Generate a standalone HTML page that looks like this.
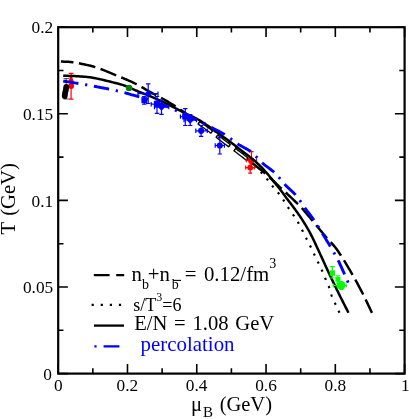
<!DOCTYPE html>
<html><head><meta charset="utf-8"><title>Freeze-out</title>
<style>
html,body{margin:0;padding:0;background:#fff;}
body{width:409px;height:419px;overflow:hidden;position:relative;font-family:"Liberation Serif",serif;color:#000;}
svg{position:absolute;left:0;top:0;will-change:transform;}
text{font-family:"Liberation Serif",serif;fill:#000;}
</style></head><body>
<svg width="409" height="419" viewBox="0 0 409 419">
<rect x="0" y="0" width="409" height="419" fill="#fff"/>
<defs><clipPath id="hc"><rect x="195" y="112" width="55" height="58"/></clipPath></defs>
<g fill="none" stroke-linecap="butt" stroke-linejoin="round">
<path d="M200.00,121.00 L201.67,122.16 L203.33,123.31 L205.00,124.45 L206.67,125.59 L208.33,126.73 L210.00,127.88 L211.67,129.02 L213.33,130.19 L215.00,131.36 L216.67,132.55 L218.33,133.76 L220.00,135.00 L221.66,136.25 L223.32,137.48 L224.96,138.73 L226.61,139.97 L228.26,141.24 L229.91,142.52 L231.56,143.83 L233.22,145.17 L234.89,146.55 L236.58,147.98 L238.28,149.46 L240.00,151.00 L241.79,152.66 L243.68,154.46 L245.64,156.38 L247.65,158.38 L249.66,160.41 L251.66,162.45 L253.60,164.45 L255.46,166.39 L257.21,168.22 L258.83,169.90 L260.26,171.41 L261.50,172.70 L262.52,173.77 L263.34,174.64 L264.00,175.35 L264.51,175.93 L264.92,176.41 L265.24,176.80 L265.50,177.14 L265.74,177.47 L265.99,177.80 L266.26,178.16 L266.59,178.58 L267.00,179.10 L267.47,179.68 L267.94,180.28 L268.42,180.88 L268.89,181.50 L269.37,182.12 L269.85,182.75 L270.33,183.38 L270.81,184.00 L271.28,184.62 L271.76,185.22 L272.23,185.82 L272.70,186.40 L273.17,186.96 L273.63,187.51 L274.09,188.04 L274.56,188.56 L275.02,189.08 L275.48,189.59 L275.93,190.11 L276.39,190.63 L276.84,191.15 L277.30,191.69 L277.75,192.23 L278.20,192.80 L278.65,193.38 L279.10,193.98 L279.55,194.58 L280.00,195.19 L280.45,195.81 L280.90,196.44 L281.34,197.07 L281.79,197.70 L282.22,198.33 L282.65,198.96 L283.08,199.58 L283.50,200.20 L283.91,200.82 L284.31,201.43 L284.71,202.05 L285.10,202.67 L285.48,203.28 L285.86,203.90 L286.24,204.52 L286.63,205.13 L287.01,205.75 L287.40,206.37 L287.80,206.98 L288.20,207.60 L288.61,208.22 L289.03,208.83 L289.46,209.45 L289.89,210.07 L290.32,210.69 L290.75,211.31 L291.18,211.92 L291.61,212.54 L292.04,213.16 L292.47,213.77 L292.89,214.39 L293.30,215.00 L293.71,215.61 L294.11,216.21 L294.51,216.81 L294.90,217.40 L295.30,217.99 L295.69,218.59 L296.08,219.19 L296.46,219.79 L296.85,220.40 L297.23,221.02 L297.62,221.65 L298.00,222.30 L298.38,222.96 L298.77,223.64 L299.15,224.34 L299.54,225.04 L299.92,225.75 L300.30,226.47 L300.68,227.19 L301.05,227.90 L301.42,228.62 L301.79,229.32 L302.15,230.02 L302.50,230.70 L302.85,231.37 L303.19,232.04 L303.52,232.70 L303.85,233.36 L304.17,234.01 L304.49,234.66 L304.81,235.31 L305.13,235.95 L305.45,236.59 L305.76,237.23 L306.08,237.87 L306.40,238.50 L306.72,239.13 L307.04,239.75 L307.35,240.36 L307.67,240.97 L307.99,241.57 L308.30,242.18 L308.61,242.78 L308.93,243.39 L309.25,244.00 L309.56,244.62 L309.88,245.26 L310.20,245.90 L310.52,246.56 L310.84,247.22 L311.17,247.90 L311.49,248.58 L311.82,249.27 L312.14,249.96 L312.47,250.66 L312.80,251.35 L313.12,252.05 L313.45,252.74 L313.77,253.42 L314.10,254.10 L314.43,254.77 L314.75,255.44 L315.08,256.11 L315.40,256.77 L315.73,257.44 L316.05,258.10 L316.38,258.76 L316.70,259.43 L317.03,260.09 L317.35,260.76 L317.68,261.43 L318.00,262.10 L318.33,262.78 L318.65,263.45 L318.98,264.13 L319.31,264.81 L319.65,265.49 L319.98,266.18 L320.30,266.86 L320.63,267.54 L320.95,268.23 L321.27,268.92 L321.59,269.61 L321.90,270.30 L322.21,270.99 L322.51,271.69 L322.80,272.39 L323.09,273.09 L323.38,273.79 L323.67,274.49 L323.95,275.20 L324.24,275.90 L324.53,276.60 L324.82,277.30 L325.11,278.00 L325.40,278.70 L325.70,279.39 L326.00,280.08 L326.31,280.77 L326.63,281.46 L326.94,282.14 L327.25,282.83 L327.56,283.51 L327.86,284.20 L328.16,284.89 L328.45,285.59 L328.73,286.29 L329.00,287.00 L329.25,287.72 L329.49,288.45 L329.72,289.19 L329.94,289.93 L330.15,290.68 L330.36,291.43 L330.56,292.18 L330.77,292.92 L330.99,293.66 L331.21,294.39 L331.45,295.10 L331.70,295.80 L331.96,296.48 L332.23,297.15 L332.51,297.81 L332.79,298.45 L333.08,299.09 L333.38,299.73 L333.67,300.36 L333.97,300.99 L334.28,301.63 L334.58,302.28 L334.89,302.93 L335.20,303.60 L335.52,304.30 L335.87,305.05 L336.22,305.82 L336.59,306.62 L336.96,307.42 L337.33,308.21 L337.69,308.97 L338.03,309.70 L338.35,310.39 L338.64,311.00 L338.89,311.55 L339.10,312.00 L339.27,312.36 L339.39,312.63 L339.48,312.82 L339.54,312.96 L339.58,313.04 L339.61,313.09 L339.62,313.12 L339.62,313.13 L339.63,313.14 L339.64,313.17 L339.66,313.21 L339.70,313.30" stroke="#000" stroke-width="2.2" stroke-dasharray="2.2 6.7" stroke-dashoffset="0.6"/>
<path d="M60.90,61.50 L61.93,61.56 L62.91,61.61 L63.87,61.64 L64.81,61.66 L65.75,61.68 L66.70,61.71 L67.68,61.76 L68.71,61.82 L69.81,61.91 L70.97,62.03 L72.23,62.19 L73.60,62.40 L75.08,62.65 L76.67,62.92 L78.36,63.22 L80.11,63.55 L81.93,63.90 L83.80,64.28 L85.70,64.69 L87.61,65.12 L89.52,65.58 L91.41,66.06 L93.28,66.57 L95.10,67.10 L96.90,67.67 L98.72,68.29 L100.55,68.95 L102.38,69.64 L104.22,70.36 L106.04,71.09 L107.86,71.84 L109.66,72.59 L111.44,73.34 L113.20,74.08 L114.92,74.80 L116.60,75.50 L118.25,76.18 L119.89,76.85 L121.50,77.52 L123.09,78.18 L124.66,78.84 L126.21,79.50 L127.73,80.16 L129.23,80.82 L130.71,81.48 L132.17,82.15 L133.60,82.82 L135.00,83.50 L136.37,84.19 L137.70,84.88 L138.99,85.58 L140.25,86.28 L141.49,86.99 L142.71,87.69 L143.92,88.40 L145.13,89.11 L146.33,89.81 L147.54,90.51 L148.76,91.21 L150.00,91.90 L151.27,92.59 L152.56,93.29 L153.87,93.99 L155.19,94.70 L156.50,95.40 L157.81,96.09 L159.10,96.78 L160.37,97.46 L161.60,98.12 L162.79,98.77 L163.93,99.40 L165.00,100.00 L166.01,100.58 L166.98,101.14 L167.90,101.68 L168.78,102.21 L169.62,102.72 L170.44,103.22 L171.23,103.71 L172.00,104.19 L172.76,104.67 L173.51,105.15 L174.25,105.62 L175.00,106.10 L175.74,106.57 L176.46,107.04 L177.16,107.50 L177.85,107.95 L178.53,108.39 L179.19,108.84 L179.84,109.28 L180.48,109.72 L181.12,110.16 L181.75,110.60 L182.37,111.05 L183.00,111.50 L183.61,111.95 L184.20,112.40 L184.76,112.85 L185.31,113.30 L185.86,113.74 L186.41,114.19 L186.96,114.65 L187.52,115.10 L188.10,115.57 L188.70,116.04 L189.33,116.51 L190.00,117.00 L190.70,117.49 L191.43,117.99 L192.19,118.50 L192.96,119.01 L193.76,119.53 L194.56,120.05 L195.38,120.58 L196.20,121.11 L197.03,121.65 L197.86,122.19 L198.68,122.74 L199.50,123.30 L200.31,123.85 L201.10,124.40 L201.89,124.95 L202.68,125.49 L203.47,126.04 L204.27,126.61 L205.08,127.18 L205.91,127.77 L206.76,128.39 L207.64,129.03 L208.55,129.70 L209.50,130.40 L210.47,131.13 L211.47,131.89 L212.48,132.67 L213.51,133.47 L214.57,134.29 L215.64,135.13 L216.75,135.99 L217.88,136.88 L219.04,137.78 L220.23,138.70 L221.45,139.64 L222.70,140.60 L224.01,141.59 L225.37,142.62 L226.79,143.68 L228.25,144.77 L229.73,145.88 L231.24,147.01 L232.75,148.13 L234.25,149.26 L235.74,150.38 L237.20,151.48 L238.63,152.55 L240.00,153.60 L241.36,154.64 L242.73,155.70 L244.10,156.76 L245.47,157.83 L246.82,158.88 L248.14,159.92 L249.43,160.93 L250.68,161.91 L251.87,162.84 L252.99,163.72 L254.04,164.55 L255.00,165.30 L255.86,165.97 L256.62,166.56 L257.29,167.08 L257.89,167.54 L258.43,167.96 L258.94,168.34 L259.42,168.72 L259.89,169.09 L260.37,169.46 L260.87,169.87 L261.41,170.31 L262.00,170.80 L262.62,171.32 L263.24,171.84 L263.86,172.36 L264.48,172.90 L265.11,173.44 L265.75,173.99 L266.40,174.57 L267.07,175.16 L267.77,175.78 L268.48,176.42 L269.23,177.09 L270.00,177.80 L270.83,178.57 L271.74,179.41 L272.70,180.31 L273.69,181.26 L274.71,182.22 L275.73,183.19 L276.74,184.16 L277.72,185.09 L278.65,185.98 L279.52,186.80 L280.31,187.55 L281.00,188.20 L281.57,188.73 L282.03,189.15 L282.39,189.48 L282.68,189.74 L282.93,189.96 L283.15,190.15 L283.37,190.34 L283.62,190.56 L283.91,190.82 L284.27,191.15 L284.73,191.57 L285.30,192.10 L286.00,192.75 L286.81,193.51 L287.71,194.36 L288.67,195.27 L289.69,196.22 L290.73,197.20 L291.77,198.18 L292.79,199.16 L293.78,200.09 L294.71,200.97 L295.55,201.78 L296.30,202.50 L296.92,203.09 L297.43,203.56 L297.85,203.95 L298.21,204.26 L298.53,204.55 L298.84,204.82 L299.16,205.13 L299.51,205.48 L299.93,205.92 L300.43,206.46 L301.05,207.15 L301.80,208.00 L302.70,209.04 L303.74,210.25 L304.88,211.60 L306.11,213.07 L307.40,214.61 L308.73,216.21 L310.08,217.82 L311.41,219.43 L312.71,221.01 L313.96,222.51 L315.13,223.92 L316.20,225.20 L317.17,226.37 L318.08,227.47 L318.94,228.50 L319.76,229.49 L320.54,230.44 L321.30,231.36 L322.05,232.27 L322.80,233.18 L323.56,234.09 L324.34,235.03 L325.15,235.99 L326.00,237.00 L326.88,238.01 L327.75,238.99 L328.64,239.95 L329.53,240.90 L330.43,241.86 L331.34,242.84 L332.27,243.86 L333.21,244.93 L334.18,246.07 L335.16,247.28 L336.17,248.59 L337.20,250.00 L338.27,251.54 L339.39,253.20 L340.55,254.96 L341.73,256.81 L342.94,258.72 L344.15,260.68 L345.36,262.67 L346.57,264.66 L347.75,266.63 L348.91,268.58 L350.03,270.48 L351.10,272.30 L352.13,274.07 L353.14,275.83 L354.12,277.56 L355.09,279.28 L356.03,280.99 L356.96,282.69 L357.88,284.38 L358.78,286.06 L359.67,287.75 L360.55,289.43 L361.43,291.11 L362.30,292.80 L363.16,294.49 L364.00,296.17 L364.83,297.85 L365.64,299.53 L366.45,301.20 L367.24,302.88 L368.03,304.55 L368.82,306.21 L369.61,307.88 L370.40,309.55 L371.20,311.23 L372.00,312.90" stroke="#000" stroke-width="2.5" stroke-dasharray="16.9 5.5" stroke-dashoffset="4.3"/>
<g clip-path="url(#hc)"><path d="M60.90,61.50 L61.93,61.56 L62.91,61.61 L63.87,61.64 L64.81,61.66 L65.75,61.68 L66.70,61.71 L67.68,61.76 L68.71,61.82 L69.81,61.91 L70.97,62.03 L72.23,62.19 L73.60,62.40 L75.08,62.65 L76.67,62.92 L78.36,63.22 L80.11,63.55 L81.93,63.90 L83.80,64.28 L85.70,64.69 L87.61,65.12 L89.52,65.58 L91.41,66.06 L93.28,66.57 L95.10,67.10 L96.90,67.67 L98.72,68.29 L100.55,68.95 L102.38,69.64 L104.22,70.36 L106.04,71.09 L107.86,71.84 L109.66,72.59 L111.44,73.34 L113.20,74.08 L114.92,74.80 L116.60,75.50 L118.25,76.18 L119.89,76.85 L121.50,77.52 L123.09,78.18 L124.66,78.84 L126.21,79.50 L127.73,80.16 L129.23,80.82 L130.71,81.48 L132.17,82.15 L133.60,82.82 L135.00,83.50 L136.37,84.19 L137.70,84.88 L138.99,85.58 L140.25,86.28 L141.49,86.99 L142.71,87.69 L143.92,88.40 L145.13,89.11 L146.33,89.81 L147.54,90.51 L148.76,91.21 L150.00,91.90 L151.27,92.59 L152.56,93.29 L153.87,93.99 L155.19,94.70 L156.50,95.40 L157.81,96.09 L159.10,96.78 L160.37,97.46 L161.60,98.12 L162.79,98.77 L163.93,99.40 L165.00,100.00 L166.01,100.58 L166.98,101.14 L167.90,101.68 L168.78,102.21 L169.62,102.72 L170.44,103.22 L171.23,103.71 L172.00,104.19 L172.76,104.67 L173.51,105.15 L174.25,105.62 L175.00,106.10 L175.74,106.57 L176.46,107.04 L177.16,107.50 L177.85,107.95 L178.53,108.39 L179.19,108.84 L179.84,109.28 L180.48,109.72 L181.12,110.16 L181.75,110.60 L182.37,111.05 L183.00,111.50 L183.61,111.95 L184.20,112.40 L184.76,112.85 L185.31,113.30 L185.86,113.74 L186.41,114.19 L186.96,114.65 L187.52,115.10 L188.10,115.57 L188.70,116.04 L189.33,116.51 L190.00,117.00 L190.70,117.49 L191.43,117.99 L192.19,118.50 L192.96,119.01 L193.76,119.53 L194.56,120.05 L195.38,120.58 L196.20,121.11 L197.03,121.65 L197.86,122.19 L198.68,122.74 L199.50,123.30 L200.31,123.85 L201.10,124.40 L201.89,124.95 L202.68,125.49 L203.47,126.04 L204.27,126.61 L205.08,127.18 L205.91,127.77 L206.76,128.39 L207.64,129.03 L208.55,129.70 L209.50,130.40 L210.47,131.13 L211.47,131.89 L212.48,132.67 L213.51,133.47 L214.57,134.29 L215.64,135.13 L216.75,135.99 L217.88,136.88 L219.04,137.78 L220.23,138.70 L221.45,139.64 L222.70,140.60 L224.01,141.59 L225.37,142.62 L226.79,143.68 L228.25,144.77 L229.73,145.88 L231.24,147.01 L232.75,148.13 L234.25,149.26 L235.74,150.38 L237.20,151.48 L238.63,152.55 L240.00,153.60 L241.36,154.64 L242.73,155.70 L244.10,156.76 L245.47,157.83 L246.82,158.88 L248.14,159.92 L249.43,160.93 L250.68,161.91 L251.87,162.84 L252.99,163.72 L254.04,164.55 L255.00,165.30 L255.86,165.97 L256.62,166.56 L257.29,167.08 L257.89,167.54 L258.43,167.96 L258.94,168.34 L259.42,168.72 L259.89,169.09 L260.37,169.46 L260.87,169.87 L261.41,170.31 L262.00,170.80 L262.62,171.32 L263.24,171.84 L263.86,172.36 L264.48,172.90 L265.11,173.44 L265.75,173.99 L266.40,174.57 L267.07,175.16 L267.77,175.78 L268.48,176.42 L269.23,177.09 L270.00,177.80 L270.83,178.57 L271.74,179.41 L272.70,180.31 L273.69,181.26 L274.71,182.22 L275.73,183.19 L276.74,184.16 L277.72,185.09 L278.65,185.98 L279.52,186.80 L280.31,187.55 L281.00,188.20 L281.57,188.73 L282.03,189.15 L282.39,189.48 L282.68,189.74 L282.93,189.96 L283.15,190.15 L283.37,190.34 L283.62,190.56 L283.91,190.82 L284.27,191.15 L284.73,191.57 L285.30,192.10 L286.00,192.75 L286.81,193.51 L287.71,194.36 L288.67,195.27 L289.69,196.22 L290.73,197.20 L291.77,198.18 L292.79,199.16 L293.78,200.09 L294.71,200.97 L295.55,201.78 L296.30,202.50 L296.92,203.09 L297.43,203.56 L297.85,203.95 L298.21,204.26 L298.53,204.55 L298.84,204.82 L299.16,205.13 L299.51,205.48 L299.93,205.92 L300.43,206.46 L301.05,207.15 L301.80,208.00 L302.70,209.04 L303.74,210.25 L304.88,211.60 L306.11,213.07 L307.40,214.61 L308.73,216.21 L310.08,217.82 L311.41,219.43 L312.71,221.01 L313.96,222.51 L315.13,223.92 L316.20,225.20 L317.17,226.37 L318.08,227.47 L318.94,228.50 L319.76,229.49 L320.54,230.44 L321.30,231.36 L322.05,232.27 L322.80,233.18 L323.56,234.09 L324.34,235.03 L325.15,235.99 L326.00,237.00 L326.88,238.01 L327.75,238.99 L328.64,239.95 L329.53,240.90 L330.43,241.86 L331.34,242.84 L332.27,243.86 L333.21,244.93 L334.18,246.07 L335.16,247.28 L336.17,248.59 L337.20,250.00 L338.27,251.54 L339.39,253.20 L340.55,254.96 L341.73,256.81 L342.94,258.72 L344.15,260.68 L345.36,262.67 L346.57,264.66 L347.75,266.63 L348.91,268.58 L350.03,270.48 L351.10,272.30 L352.13,274.07 L353.14,275.83 L354.12,277.56 L355.09,279.28 L356.03,280.99 L356.96,282.69 L357.88,284.38 L358.78,286.06 L359.67,287.75 L360.55,289.43 L361.43,291.11 L362.30,292.80 L363.16,294.49 L364.00,296.17 L364.83,297.85 L365.64,299.53 L366.45,301.20 L367.24,302.88 L368.03,304.55 L368.82,306.21 L369.61,307.88 L370.40,309.55 L371.20,311.23 L372.00,312.90" stroke="#000" stroke-width="4.1" stroke-dasharray="16.9 5.5" stroke-dashoffset="4.3"/>
<path d="M60.90,61.50 L61.93,61.56 L62.91,61.61 L63.87,61.64 L64.81,61.66 L65.75,61.68 L66.70,61.71 L67.68,61.76 L68.71,61.82 L69.81,61.91 L70.97,62.03 L72.23,62.19 L73.60,62.40 L75.08,62.65 L76.67,62.92 L78.36,63.22 L80.11,63.55 L81.93,63.90 L83.80,64.28 L85.70,64.69 L87.61,65.12 L89.52,65.58 L91.41,66.06 L93.28,66.57 L95.10,67.10 L96.90,67.67 L98.72,68.29 L100.55,68.95 L102.38,69.64 L104.22,70.36 L106.04,71.09 L107.86,71.84 L109.66,72.59 L111.44,73.34 L113.20,74.08 L114.92,74.80 L116.60,75.50 L118.25,76.18 L119.89,76.85 L121.50,77.52 L123.09,78.18 L124.66,78.84 L126.21,79.50 L127.73,80.16 L129.23,80.82 L130.71,81.48 L132.17,82.15 L133.60,82.82 L135.00,83.50 L136.37,84.19 L137.70,84.88 L138.99,85.58 L140.25,86.28 L141.49,86.99 L142.71,87.69 L143.92,88.40 L145.13,89.11 L146.33,89.81 L147.54,90.51 L148.76,91.21 L150.00,91.90 L151.27,92.59 L152.56,93.29 L153.87,93.99 L155.19,94.70 L156.50,95.40 L157.81,96.09 L159.10,96.78 L160.37,97.46 L161.60,98.12 L162.79,98.77 L163.93,99.40 L165.00,100.00 L166.01,100.58 L166.98,101.14 L167.90,101.68 L168.78,102.21 L169.62,102.72 L170.44,103.22 L171.23,103.71 L172.00,104.19 L172.76,104.67 L173.51,105.15 L174.25,105.62 L175.00,106.10 L175.74,106.57 L176.46,107.04 L177.16,107.50 L177.85,107.95 L178.53,108.39 L179.19,108.84 L179.84,109.28 L180.48,109.72 L181.12,110.16 L181.75,110.60 L182.37,111.05 L183.00,111.50 L183.61,111.95 L184.20,112.40 L184.76,112.85 L185.31,113.30 L185.86,113.74 L186.41,114.19 L186.96,114.65 L187.52,115.10 L188.10,115.57 L188.70,116.04 L189.33,116.51 L190.00,117.00 L190.70,117.49 L191.43,117.99 L192.19,118.50 L192.96,119.01 L193.76,119.53 L194.56,120.05 L195.38,120.58 L196.20,121.11 L197.03,121.65 L197.86,122.19 L198.68,122.74 L199.50,123.30 L200.31,123.85 L201.10,124.40 L201.89,124.95 L202.68,125.49 L203.47,126.04 L204.27,126.61 L205.08,127.18 L205.91,127.77 L206.76,128.39 L207.64,129.03 L208.55,129.70 L209.50,130.40 L210.47,131.13 L211.47,131.89 L212.48,132.67 L213.51,133.47 L214.57,134.29 L215.64,135.13 L216.75,135.99 L217.88,136.88 L219.04,137.78 L220.23,138.70 L221.45,139.64 L222.70,140.60 L224.01,141.59 L225.37,142.62 L226.79,143.68 L228.25,144.77 L229.73,145.88 L231.24,147.01 L232.75,148.13 L234.25,149.26 L235.74,150.38 L237.20,151.48 L238.63,152.55 L240.00,153.60 L241.36,154.64 L242.73,155.70 L244.10,156.76 L245.47,157.83 L246.82,158.88 L248.14,159.92 L249.43,160.93 L250.68,161.91 L251.87,162.84 L252.99,163.72 L254.04,164.55 L255.00,165.30 L255.86,165.97 L256.62,166.56 L257.29,167.08 L257.89,167.54 L258.43,167.96 L258.94,168.34 L259.42,168.72 L259.89,169.09 L260.37,169.46 L260.87,169.87 L261.41,170.31 L262.00,170.80 L262.62,171.32 L263.24,171.84 L263.86,172.36 L264.48,172.90 L265.11,173.44 L265.75,173.99 L266.40,174.57 L267.07,175.16 L267.77,175.78 L268.48,176.42 L269.23,177.09 L270.00,177.80 L270.83,178.57 L271.74,179.41 L272.70,180.31 L273.69,181.26 L274.71,182.22 L275.73,183.19 L276.74,184.16 L277.72,185.09 L278.65,185.98 L279.52,186.80 L280.31,187.55 L281.00,188.20 L281.57,188.73 L282.03,189.15 L282.39,189.48 L282.68,189.74 L282.93,189.96 L283.15,190.15 L283.37,190.34 L283.62,190.56 L283.91,190.82 L284.27,191.15 L284.73,191.57 L285.30,192.10 L286.00,192.75 L286.81,193.51 L287.71,194.36 L288.67,195.27 L289.69,196.22 L290.73,197.20 L291.77,198.18 L292.79,199.16 L293.78,200.09 L294.71,200.97 L295.55,201.78 L296.30,202.50 L296.92,203.09 L297.43,203.56 L297.85,203.95 L298.21,204.26 L298.53,204.55 L298.84,204.82 L299.16,205.13 L299.51,205.48 L299.93,205.92 L300.43,206.46 L301.05,207.15 L301.80,208.00 L302.70,209.04 L303.74,210.25 L304.88,211.60 L306.11,213.07 L307.40,214.61 L308.73,216.21 L310.08,217.82 L311.41,219.43 L312.71,221.01 L313.96,222.51 L315.13,223.92 L316.20,225.20 L317.17,226.37 L318.08,227.47 L318.94,228.50 L319.76,229.49 L320.54,230.44 L321.30,231.36 L322.05,232.27 L322.80,233.18 L323.56,234.09 L324.34,235.03 L325.15,235.99 L326.00,237.00 L326.88,238.01 L327.75,238.99 L328.64,239.95 L329.53,240.90 L330.43,241.86 L331.34,242.84 L332.27,243.86 L333.21,244.93 L334.18,246.07 L335.16,247.28 L336.17,248.59 L337.20,250.00 L338.27,251.54 L339.39,253.20 L340.55,254.96 L341.73,256.81 L342.94,258.72 L344.15,260.68 L345.36,262.67 L346.57,264.66 L347.75,266.63 L348.91,268.58 L350.03,270.48 L351.10,272.30 L352.13,274.07 L353.14,275.83 L354.12,277.56 L355.09,279.28 L356.03,280.99 L356.96,282.69 L357.88,284.38 L358.78,286.06 L359.67,287.75 L360.55,289.43 L361.43,291.11 L362.30,292.80 L363.16,294.49 L364.00,296.17 L364.83,297.85 L365.64,299.53 L366.45,301.20 L367.24,302.88 L368.03,304.55 L368.82,306.21 L369.61,307.88 L370.40,309.55 L371.20,311.23 L372.00,312.90" stroke="#fff" stroke-width="1.5" stroke-dasharray="14.3 8.1" stroke-dashoffset="3.0"/></g>
</g>
<path d="M71.10,73.40 V99.10 M68.80,73.40 h4.60 M68.80,99.10 h4.60" stroke="#f00" stroke-width="1.20" fill="none"/><path d="M71.1,74.6 l3,7.4 h-6 z" fill="#f00"/><circle cx="71.20" cy="86.00" r="2.90" fill="#f00"/><path d="M251.50,151.60 V169.00 M249.50,151.60 h4.00 M249.50,169.00 h4.00" stroke="#f00" stroke-width="1.20" fill="none"/><path d="M246.30,160.30 H256.50 M246.30,158.30 v4.00 M256.50,158.30 v4.00" stroke="#f00" stroke-width="1.20" fill="none"/><circle cx="251.30" cy="160.60" r="3.10" fill="#f00"/><path d="M250.20,162.00 V173.20 M248.20,162.00 h4.00 M248.20,173.20 h4.00" stroke="#f00" stroke-width="1.20" fill="none"/><path d="M245.70,167.60 H254.60 M245.70,165.60 v4.00 M254.60,165.60 v4.00" stroke="#f00" stroke-width="1.20" fill="none"/><circle cx="250.20" cy="167.60" r="2.90" fill="#f00"/>
<g fill="none" stroke-linecap="butt" stroke-linejoin="round">
<path d="M63.20,75.70 L64.61,75.76 L66.03,75.81 L67.47,75.85 L68.90,75.90 L70.34,75.95 L71.77,75.99 L73.20,76.04 L74.61,76.10 L76.00,76.16 L77.36,76.23 L78.70,76.31 L80.00,76.40 L81.24,76.49 L82.42,76.58 L83.55,76.66 L84.64,76.75 L85.71,76.85 L86.78,76.95 L87.86,77.07 L88.97,77.20 L90.12,77.36 L91.33,77.54 L92.62,77.76 L94.00,78.00 L95.50,78.29 L97.13,78.62 L98.86,78.99 L100.66,79.40 L102.50,79.82 L104.36,80.26 L106.20,80.70 L108.01,81.14 L109.75,81.56 L111.40,81.97 L112.92,82.35 L114.30,82.70 L115.52,83.01 L116.62,83.28 L117.60,83.53 L118.50,83.77 L119.34,83.99 L120.12,84.21 L120.89,84.43 L121.64,84.66 L122.41,84.90 L123.21,85.17 L124.07,85.47 L125.00,85.80 L125.99,86.17 L127.01,86.57 L128.04,87.00 L129.10,87.44 L130.17,87.91 L131.25,88.38 L132.34,88.86 L133.42,89.34 L134.51,89.82 L135.58,90.30 L136.65,90.76 L137.70,91.20 L138.73,91.63 L139.74,92.04 L140.74,92.44 L141.73,92.83 L142.72,93.23 L143.71,93.62 L144.70,94.02 L145.71,94.42 L146.74,94.84 L147.80,95.27 L148.88,95.73 L150.00,96.20 L151.14,96.69 L152.29,97.18 L153.44,97.67 L154.61,98.17 L155.81,98.69 L157.02,99.22 L158.26,99.77 L159.53,100.34 L160.84,100.93 L162.18,101.56 L163.57,102.21 L165.00,102.90 L166.51,103.64 L168.10,104.44 L169.77,105.29 L171.48,106.17 L173.23,107.08 L175.00,108.01 L176.77,108.93 L178.52,109.85 L180.23,110.74 L181.90,111.61 L183.49,112.43 L185.00,113.20 L186.41,113.90 L187.73,114.53 L188.98,115.10 L190.19,115.64 L191.35,116.16 L192.50,116.68 L193.65,117.20 L194.81,117.76 L196.02,118.36 L197.27,119.02 L198.59,119.76 L200.00,120.60 L201.49,121.53 L203.04,122.53 L204.65,123.59 L206.30,124.71 L207.98,125.88 L209.69,127.08 L211.41,128.31 L213.15,129.55 L214.88,130.80 L216.61,132.05 L218.32,133.29 L220.00,134.50 L221.67,135.70 L223.34,136.91 L225.01,138.13 L226.68,139.35 L228.35,140.58 L230.03,141.82 L231.70,143.06 L233.36,144.31 L235.03,145.57 L236.69,146.84 L238.35,148.12 L240.00,149.40 L241.66,150.68 L243.32,151.97 L245.00,153.25 L246.67,154.53 L248.34,155.83 L250.01,157.13 L251.66,158.45 L253.30,159.79 L254.91,161.15 L256.51,162.54 L258.07,163.95 L259.60,165.40 L261.11,166.90 L262.61,168.46 L264.10,170.07 L265.57,171.71 L267.03,173.38 L268.46,175.05 L269.86,176.72 L271.23,178.38 L272.56,180.01 L273.85,181.59 L275.10,183.13 L276.30,184.60 L277.45,186.02 L278.57,187.43 L279.64,188.81 L280.68,190.17 L281.68,191.51 L282.64,192.81 L283.58,194.07 L284.48,195.30 L285.35,196.49 L286.19,197.64 L287.01,198.75 L287.80,199.80 L288.55,200.79 L289.25,201.70 L289.90,202.55 L290.52,203.36 L291.10,204.12 L291.67,204.85 L292.22,205.57 L292.76,206.28 L293.30,207.00 L293.85,207.73 L294.41,208.49 L295.00,209.30 L295.60,210.12 L296.18,210.93 L296.77,211.74 L297.35,212.54 L297.93,213.36 L298.51,214.18 L299.10,215.02 L299.70,215.89 L300.30,216.78 L300.92,217.71 L301.55,218.68 L302.20,219.70 L302.86,220.75 L303.54,221.82 L304.22,222.91 L304.92,224.03 L305.62,225.18 L306.34,226.36 L307.06,227.57 L307.79,228.83 L308.53,230.12 L309.28,231.47 L310.04,232.86 L310.80,234.30 L311.58,235.82 L312.38,237.41 L313.19,239.08 L314.01,240.80 L314.85,242.57 L315.69,244.36 L316.53,246.17 L317.36,247.99 L318.19,249.79 L319.01,251.57 L319.81,253.31 L320.60,255.00 L321.37,256.65 L322.12,258.28 L322.85,259.89 L323.58,261.49 L324.30,263.08 L325.01,264.66 L325.73,266.23 L326.44,267.81 L327.17,269.39 L327.90,270.98 L328.64,272.58 L329.40,274.20 L330.17,275.83 L330.95,277.48 L331.75,279.13 L332.54,280.79 L333.35,282.46 L334.16,284.12 L334.97,285.79 L335.78,287.45 L336.59,289.11 L337.40,290.75 L338.20,292.38 L339.00,294.00 L339.80,295.60 L340.59,297.19 L341.38,298.77 L342.17,300.34 L342.97,301.90 L343.76,303.46 L344.55,305.02 L345.34,306.57 L346.13,308.12 L346.92,309.68 L347.71,311.24 L348.50,312.80" stroke="#000" stroke-width="2.5"/>
<path d="M63.20,81.10 L64.47,81.30 L65.75,81.50 L67.02,81.69 L68.29,81.89 L69.56,82.08 L70.84,82.28 L72.11,82.48 L73.39,82.68 L74.66,82.88 L75.94,83.08 L77.22,83.29 L78.50,83.50 L79.76,83.71 L80.98,83.91 L82.19,84.11 L83.37,84.31 L84.56,84.51 L85.77,84.71 L87.00,84.93 L88.27,85.15 L89.59,85.38 L90.98,85.64 L92.45,85.91 L94.00,86.20 L95.67,86.52 L97.46,86.85 L99.34,87.21 L101.30,87.58 L103.30,87.97 L105.34,88.36 L107.39,88.77 L109.43,89.17 L111.43,89.58 L113.37,89.99 L115.23,90.40 L117.00,90.80 L118.66,91.19 L120.24,91.58 L121.76,91.96 L123.22,92.34 L124.65,92.72 L126.06,93.11 L127.47,93.51 L128.89,93.91 L130.34,94.33 L131.83,94.77 L133.38,95.22 L135.00,95.70 L136.70,96.20 L138.47,96.71 L140.28,97.23 L142.13,97.77 L144.01,98.33 L145.91,98.89 L147.82,99.47 L149.71,100.06 L151.59,100.66 L153.44,101.26 L155.24,101.88 L157.00,102.50 L158.69,103.13 L160.34,103.76 L161.93,104.39 L163.50,105.03 L165.05,105.69 L166.60,106.35 L168.15,107.03 L169.72,107.72 L171.32,108.43 L172.95,109.17 L174.64,109.92 L176.40,110.70 L178.26,111.52 L180.23,112.40 L182.28,113.33 L184.40,114.28 L186.54,115.25 L188.68,116.23 L190.80,117.20 L192.86,118.15 L194.84,119.07 L196.71,119.94 L198.44,120.76 L200.00,121.50 L201.39,122.17 L202.63,122.78 L203.74,123.34 L204.74,123.85 L205.66,124.33 L206.52,124.79 L207.35,125.24 L208.16,125.68 L208.98,126.13 L209.82,126.59 L210.72,127.08 L211.70,127.60 L212.73,128.14 L213.76,128.67 L214.80,129.20 L215.85,129.74 L216.91,130.28 L217.97,130.82 L219.05,131.39 L220.13,131.96 L221.21,132.56 L222.30,133.18 L223.40,133.82 L224.50,134.50 L225.61,135.22 L226.74,135.98 L227.88,136.77 L229.02,137.60 L230.17,138.44 L231.33,139.29 L232.49,140.15 L233.64,141.00 L234.80,141.84 L235.94,142.66 L237.08,143.45 L238.20,144.20 L239.32,144.91 L240.44,145.57 L241.56,146.21 L242.68,146.82 L243.80,147.42 L244.91,148.01 L246.01,148.61 L247.10,149.23 L248.17,149.86 L249.23,150.53 L250.28,151.24 L251.30,152.00 L252.30,152.81 L253.26,153.67 L254.21,154.57 L255.13,155.50 L256.05,156.46 L256.95,157.42 L257.85,158.40 L258.76,159.37 L259.67,160.34 L260.59,161.29 L261.53,162.21 L262.50,163.10 L263.49,163.95 L264.51,164.78 L265.54,165.59 L266.58,166.38 L267.63,167.16 L268.69,167.94 L269.74,168.72 L270.79,169.51 L271.82,170.32 L272.84,171.15 L273.83,172.01 L274.80,172.90 L275.74,173.83 L276.66,174.80 L277.56,175.79 L278.44,176.81 L279.32,177.84 L280.18,178.89 L281.04,179.93 L281.90,180.98 L282.76,182.01 L283.63,183.03 L284.51,184.03 L285.40,185.00 L286.31,185.94 L287.23,186.85 L288.17,187.74 L289.11,188.62 L290.06,189.49 L291.00,190.36 L291.94,191.22 L292.87,192.10 L293.78,192.99 L294.68,193.90 L295.55,194.83 L296.40,195.80 L297.22,196.80 L298.02,197.83 L298.80,198.89 L299.56,199.96 L300.30,201.05 L301.04,202.14 L301.77,203.24 L302.49,204.34 L303.21,205.43 L303.93,206.51 L304.66,207.57 L305.40,208.60 L306.14,209.61 L306.88,210.59 L307.62,211.56 L308.36,212.51 L309.10,213.45 L309.83,214.39 L310.56,215.34 L311.30,216.29 L312.03,217.26 L312.75,218.25 L313.48,219.26 L314.20,220.30 L314.92,221.37 L315.64,222.48 L316.36,223.61 L317.08,224.75 L317.80,225.91 L318.51,227.08 L319.22,228.25 L319.93,229.43 L320.63,230.59 L321.33,231.75 L322.02,232.88 L322.70,234.00 L323.37,235.10 L324.04,236.18 L324.70,237.24 L325.36,238.30 L326.00,239.35 L326.65,240.40 L327.29,241.45 L327.93,242.50 L328.57,243.56 L329.21,244.62 L329.86,245.70 L330.50,246.80 L331.15,247.91 L331.80,249.02 L332.45,250.14 L333.11,251.26 L333.76,252.39 L334.41,253.53 L335.06,254.68 L335.70,255.83 L336.34,256.98 L336.97,258.15 L337.59,259.32 L338.20,260.50 L338.81,261.71 L339.43,262.98 L340.05,264.28 L340.67,265.60 L341.28,266.92 L341.88,268.24 L342.47,269.54 L343.03,270.80 L343.57,272.01 L344.09,273.16 L344.56,274.23 L345.00,275.20 L345.39,276.07 L345.74,276.86 L346.05,277.56 L346.33,278.21 L346.59,278.80 L346.83,279.36 L347.05,279.89 L347.27,280.40 L347.48,280.92 L347.71,281.45 L347.94,282.01 L348.20,282.60" stroke="#00f" stroke-width="2.9" stroke-dasharray="15.4 6.8 2.2 6.8"/>
</g>
<path d="M148.20,83.90 V103.50 M146.00,83.90 h4.40 M146.00,103.50 h4.40" stroke="#00f" stroke-width="1.20" fill="none"/><path d="M137.90,93.70 H158.00 M137.90,91.50 v4.40 M158.00,91.50 v4.40" stroke="#00f" stroke-width="1.20" fill="none"/><path d="M148.20,90.00 l3.70,3.70 l-3.70,3.70 l-3.70,-3.70 z" fill="#00f"/><path d="M144.30,96.50 V104.20 M142.10,96.50 h4.40 M142.10,104.20 h4.40" stroke="#00f" stroke-width="1.20" fill="none"/><rect x="141.35" y="97.15" width="5.90" height="5.90" fill="#00f"/><path d="M157.00,96.50 V113.30 M154.80,96.50 h4.40 M154.80,113.30 h4.40" stroke="#00f" stroke-width="1.20" fill="none"/><path d="M151.20,104.20 H162.80 M151.20,102.00 v4.40 M162.80,102.00 v4.40" stroke="#00f" stroke-width="1.20" fill="none"/><rect x="153.90" y="101.10" width="6.20" height="6.20" fill="#00f"/><path d="M161.50,100.00 V114.30 M159.30,100.00 h4.40 M159.30,114.30 h4.40" stroke="#00f" stroke-width="1.20" fill="none"/><path d="M154.50,107.00 H168.80 M154.50,104.80 v4.40 M168.80,104.80 v4.40" stroke="#00f" stroke-width="1.20" fill="none"/><path d="M161.50,103.20 l3.80,3.80 l-3.80,3.80 l-3.80,-3.80 z" fill="#00f"/><path d="M185.30,108.60 V125.50 M183.10,108.60 h4.40 M183.10,125.50 h4.40" stroke="#00f" stroke-width="1.20" fill="none"/><path d="M180.40,116.60 H190.20 M180.40,114.40 v4.40 M190.20,114.40 v4.40" stroke="#00f" stroke-width="1.20" fill="none"/><rect x="182.20" y="113.30" width="6.20" height="6.20" fill="#00f"/><path d="M190.20,114.50 V125.50 M188.00,114.50 h4.40 M188.00,125.50 h4.40" stroke="#00f" stroke-width="1.20" fill="none"/><path d="M184.00,120.00 H196.50 M184.00,117.80 v4.40 M196.50,117.80 v4.40" stroke="#00f" stroke-width="1.20" fill="none"/><path d="M190.20,116.20 l3.80,3.80 l-3.80,3.80 l-3.80,-3.80 z" fill="#00f"/><path d="M201.10,125.50 V136.30 M198.90,125.50 h4.40 M198.90,136.30 h4.40" stroke="#00f" stroke-width="1.20" fill="none"/><path d="M195.80,130.80 H207.30 M195.80,128.60 v4.40 M207.30,128.60 v4.40" stroke="#00f" stroke-width="1.20" fill="none"/><circle cx="201.10" cy="130.80" r="3.10" fill="#00f"/><path d="M219.80,137.40 V154.00 M217.60,137.40 h4.40 M217.60,154.00 h4.40" stroke="#00f" stroke-width="1.20" fill="none"/><path d="M215.20,145.50 H224.40 M215.20,143.30 v4.40 M224.40,143.30 v4.40" stroke="#00f" stroke-width="1.20" fill="none"/><circle cx="219.80" cy="145.50" r="3.10" fill="#00f"/>
<path d="M66.20,78.60 V99.00 M63.60,78.60 h5.20 M63.60,99.00 h5.20" stroke="#000" stroke-width="0.70" fill="none"/><circle cx="66.30" cy="86.80" r="2.90" fill="#000"/><circle cx="66.00" cy="89.00" r="2.90" fill="#000"/><circle cx="65.50" cy="91.30" r="2.90" fill="#000"/><circle cx="65.00" cy="93.70" r="2.90" fill="#000"/><circle cx="64.70" cy="96.00" r="2.90" fill="#000"/><circle cx="129.00" cy="87.90" r="3.20" fill="#008000"/><path d="M332.40,266.60 V278.00 M330.10,266.60 h4.60 M330.10,278.00 h4.60" stroke="#0f0" stroke-width="1.20" fill="none"/><rect x="329.70" y="270.30" width="5.40" height="5.40" fill="#0f0"/><path d="M337.90,275.80 V283.00 M335.90,275.80 h4.00 M335.90,283.00 h4.00" stroke="#0f0" stroke-width="1.00" fill="none"/><rect x="335.40" y="276.80" width="5.00" height="5.00" fill="#0f0"/><path d="M341.50,282.00 V289.50 M339.50,282.00 h4.00 M339.50,289.50 h4.00" stroke="#0f0" stroke-width="1.10" fill="none"/><path d="M333.30,285.50 H346.30 M333.30,283.50 v4.00 M346.30,283.50 v4.00" stroke="#0f0" stroke-width="1.10" fill="none"/><circle cx="341.30" cy="285.30" r="4.20" fill="#0f0"/><rect x="337.00" y="283.20" width="5.20" height="5.20" fill="#0f0"/>
<g stroke="#000" stroke-width="1.6" fill="none"><path d="M58.20,373.60 v-9.7 M58.20,27.20 v9.7"/><path d="M92.84,373.60 v-5.3 M92.84,27.20 v5.3"/><path d="M127.48,373.60 v-9.7 M127.48,27.20 v9.7"/><path d="M162.12,373.60 v-5.3 M162.12,27.20 v5.3"/><path d="M196.76,373.60 v-9.7 M196.76,27.20 v9.7"/><path d="M231.40,373.60 v-5.3 M231.40,27.20 v5.3"/><path d="M266.04,373.60 v-9.7 M266.04,27.20 v9.7"/><path d="M300.68,373.60 v-5.3 M300.68,27.20 v5.3"/><path d="M335.32,373.60 v-9.7 M335.32,27.20 v9.7"/><path d="M369.96,373.60 v-5.3 M369.96,27.20 v5.3"/><path d="M404.60,373.60 v-9.7 M404.60,27.20 v9.7"/><path d="M58.20,373.60 h9.7 M404.60,373.60 h-9.7"/><path d="M58.20,330.30 h5.3 M404.60,330.30 h-5.3"/><path d="M58.20,287.00 h9.7 M404.60,287.00 h-9.7"/><path d="M58.20,243.70 h5.3 M404.60,243.70 h-5.3"/><path d="M58.20,200.40 h9.7 M404.60,200.40 h-9.7"/><path d="M58.20,157.10 h5.3 M404.60,157.10 h-5.3"/><path d="M58.20,113.80 h9.7 M404.60,113.80 h-9.7"/><path d="M58.20,70.50 h5.3 M404.60,70.50 h-5.3"/><path d="M58.20,27.20 h9.7 M404.60,27.20 h-9.7"/></g>
<rect x="58.20" y="27.20" width="346.40" height="346.40" fill="none" stroke="#000" stroke-width="2.2"/>
<!-- legend -->
<g fill="none" stroke-width="2.3">
<path d="M93.8,275.2 H124.2" stroke="#000" stroke-dasharray="15.8 6.6"/>
<path d="M91.6,304.8 H122" stroke="#000" stroke-dasharray="2.2 6.9"/>
<path d="M94,325.6 H124" stroke="#000"/>
<path d="M94.4,346.4 H119.4" stroke="#00f" stroke-dasharray="2.2 7 16.4 8"/>
</g>
<g>
<text x="131.5" y="281.2" font-size="20.8px" word-spacing="2.2px">n<tspan font-size="14px" dy="8.2">b</tspan><tspan dy="-8.2" dx="-1.2">+n</tspan><tspan font-size="14px" dy="8.2" dx="1.9">b</tspan><tspan dy="-8.2" dx="-1.3"> = 0.12/fm</tspan><tspan font-size="14px" dy="-13.4">3</tspan></text>
<text x="133.3" y="310.8" font-size="18px">s/T<tspan font-size="12px" dy="-9.5">3</tspan><tspan dy="9.5">=6</tspan></text>
<text x="134.2" y="330" font-size="20.6px" word-spacing="1.6px">E/N = 1.08 GeV</text>
<text x="140.6" y="351" font-size="20.9px" style="fill:#00f">percolation</text>
</g>
<path d="M173.2,280.4 h7.8" stroke="#000" stroke-width="1.1"/>
<!-- tick labels -->
<g font-size="17.3px">
<text x="53.2" y="33.3" text-anchor="end">0.2</text>
<text x="53.2" y="119.9" text-anchor="end">0.15</text>
<text x="53.2" y="206.5" text-anchor="end">0.1</text>
<text x="53.2" y="293.1" text-anchor="end">0.05</text>
<text x="52" y="379.7" text-anchor="end">0</text>
<text x="58.2" y="390.7" text-anchor="middle">0</text>
<text x="127.3" y="390.7" text-anchor="middle">0.2</text>
<text x="196.6" y="390.7" text-anchor="middle">0.4</text>
<text x="266" y="390.7" text-anchor="middle">0.6</text>
<text x="335.3" y="390.7" text-anchor="middle">0.8</text>
<text x="405.3" y="390.7" text-anchor="middle">1</text>
</g>
<text x="191" y="410.5" font-size="20.5px" word-spacing="1.5px">μ<tspan font-size="15px" dy="6.9" dx="1">B</tspan><tspan dy="-6.9"> (GeV)</tspan></text>
<text transform="translate(14.6,234.6) rotate(-90)" font-size="20.6px" word-spacing="1.4px">T (GeV)</text>
</svg>
</body></html>
